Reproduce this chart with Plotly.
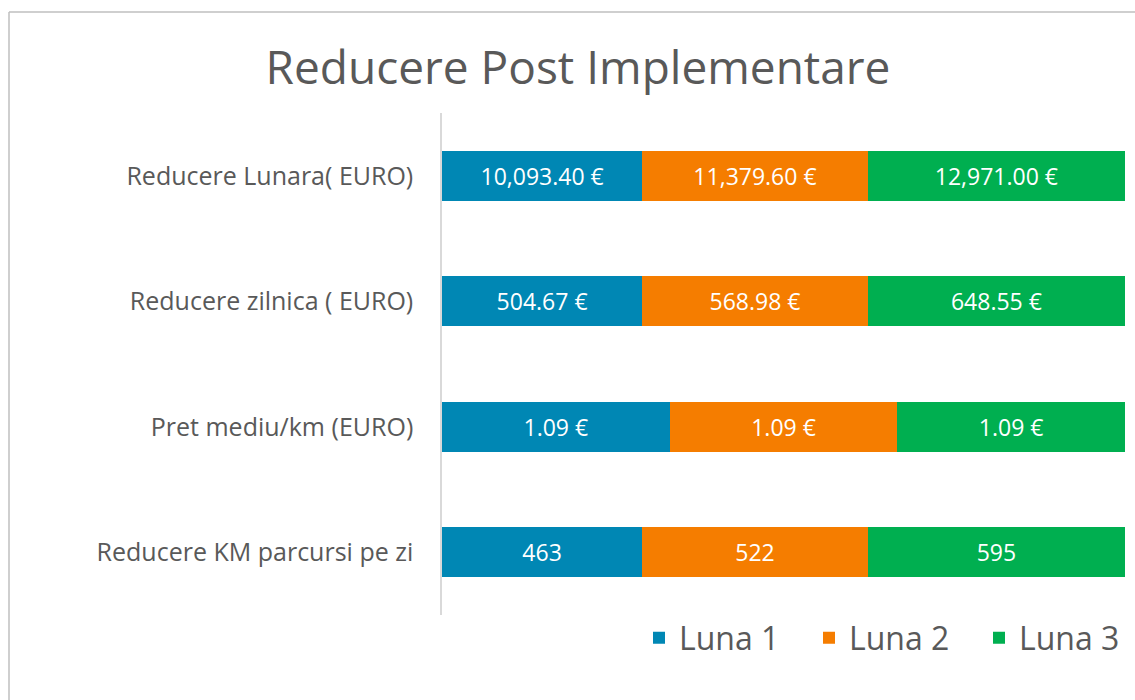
import plotly.graph_objects as go

# ---- data ----
categories = [
    "Reducere Lunara( EURO)",
    "Reducere zilnica ( EURO)",
    "Pret mediu/km (EURO)",
    "Reducere KM parcursi pe zi",
]
series_names = ["Luna 1", "Luna 2", "Luna 3"]
luna1 = [10093.40, 504.67, 1.09, 463]
luna2 = [11379.60, 568.98, 1.09, 522]
luna3 = [12971.00, 648.55, 1.09, 595]
is_euro = [True, True, True, False]
colors = ["#0087B4", "#F57D00", "#00AF50"]

W, H = 1135, 700
L, R, T, B = 442, 10, 113, 85
PW = W - L - R
PH = H - T - B


def fmt(v, euro):
    return f"{v:,.2f} €" if euro else f"{v:,.0f}"


fig = go.Figure()
for name, vals, col in zip(series_names, [luna1, luna2, luna3], colors):
    fig.add_trace(go.Bar(
        name=name,
        y=categories,
        x=vals,
        orientation="h",
        marker=dict(color=col, line=dict(width=0)),
        text=[fmt(v, e) for v, e in zip(vals, is_euro)],
        textposition="inside",
        insidetextanchor="middle",
        textfont=dict(family="Open Sans", size=23, color="white"),
        hoverinfo="skip",
    ))

def px_to_paper_x(px):
    return (px - L) / PW

def px_to_paper_y(py):
    return (H - B - py) / PH

fig.update_layout(
    width=W, height=H,
    barmode="stack", barnorm="percent", bargap=0.6,
    plot_bgcolor="white", paper_bgcolor="white",
    margin=dict(l=L, r=R, t=T, b=B, autoexpand=False),
    font=dict(family="Open Sans", color="#595959"),
    title=dict(
        text="Reducere Post Implementare",
        x=578 / W, xanchor="center", xref="container",
        y=1 - 68 / H, yanchor="middle", yref="container",
        font=dict(size=46, color="#595959", family="Open Sans"),
    ),
    xaxis=dict(range=[0, 100], visible=False, fixedrange=True),
    yaxis=dict(
        autorange="reversed", showgrid=False, zeroline=False,
        showline=True, linecolor="#D9D9D9", linewidth=1.5,
        ticks="", ticklabelstandoff=22, fixedrange=True,
        tickfont=dict(size=25, color="#595959", family="Open Sans"),
    ),
    showlegend=True,
    legend=dict(
        orientation="h", x=px_to_paper_x(1149), xanchor="right",
        y=px_to_paper_y(638), yanchor="middle",
        font=dict(size=32, color="#595959", family="Open Sans"),
        entrywidth=125, entrywidthmode="pixels",
        traceorder="normal", itemclick=False, itemdoubleclick=False,
    ),
    shapes=[
        dict(type="line", xref="paper", yref="paper",
             x0=px_to_paper_x(9), x1=px_to_paper_x(9),
             y0=px_to_paper_y(705), y1=px_to_paper_y(12),
             line=dict(color="#BFBFBF", width=1.5)),
        dict(type="line", xref="paper", yref="paper",
             x0=px_to_paper_x(9), x1=px_to_paper_x(1140),
             y0=px_to_paper_y(12), y1=px_to_paper_y(12),
             line=dict(color="#BFBFBF", width=1.5)),
    ],
)

fig.write_html(
    "out.html",
    config={"displayModeBar": False},
    post_script="document.body.style.margin='0';document.body.style.overflow='hidden';",
)
